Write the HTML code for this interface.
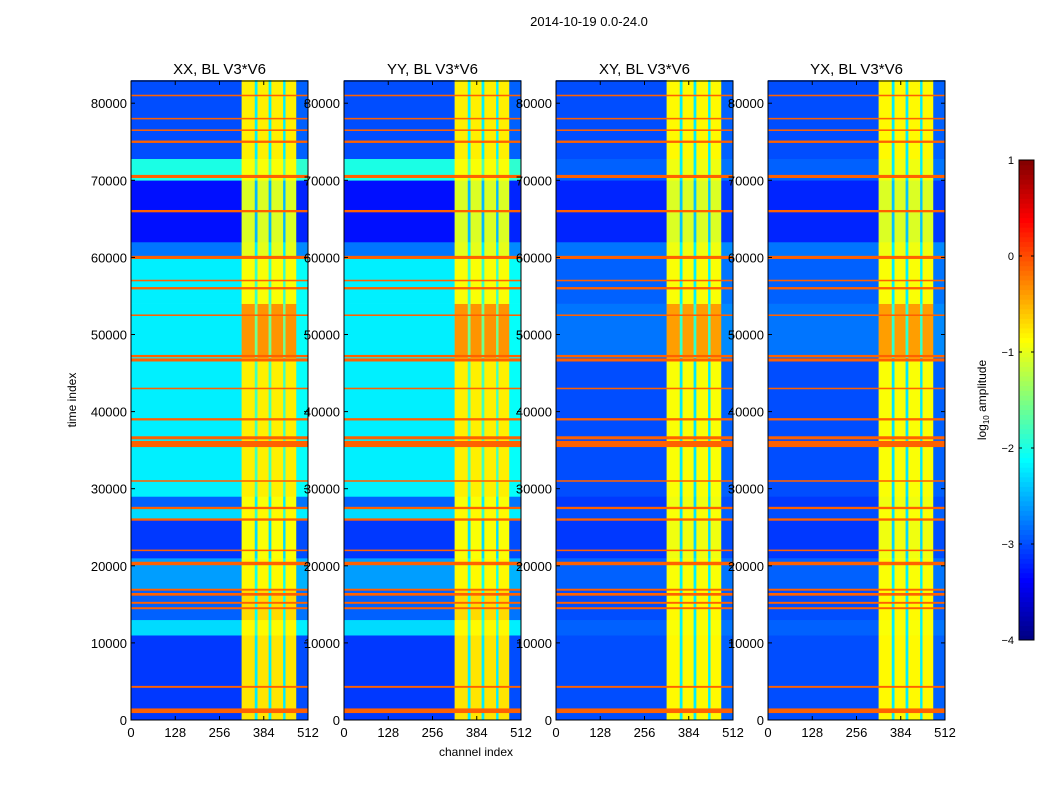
<!DOCTYPE html>
<html><head><meta charset="utf-8">
<style>
body{margin:0;background:#fff;font-family:"Liberation Sans",sans-serif}
svg text{font-family:"Liberation Sans",sans-serif;fill:#000}
</style></head>
<body>
<svg id="fig" width="1050" height="800" viewBox="0 0 1050 800" xmlns="http://www.w3.org/2000/svg">
<rect width="1050" height="800" fill="#fff"/>
<text x="589" y="26" font-size="13" text-anchor="middle">2014-10-19 0.0-24.0</text>
<text x="76" y="400" font-size="12" text-anchor="middle" transform="rotate(-90 76 400)">time index</text>
<text x="476" y="756" font-size="12" text-anchor="middle">channel index</text>
<g id="panels"></g>
<g id="cbar"></g>
<text x="986" y="400" font-size="12" text-anchor="middle" transform="rotate(-90 986 400)">log<tspan font-size="8" dy="3">10</tspan><tspan dy="-3"> amplitude</tspan></text>
</svg>
<script>
// ---- data ----
const panelTitles = ["XX, BL V3*V6","YY, BL V3*V6","XY, BL V3*V6","YX, BL V3*V6"];
const xTicks = [0,128,256,384,512];
const yTicks = [0,10000,20000,30000,40000,50000,60000,70000,80000];
const cbTicks = [1,0,-1,-2,-3,-4];
const colStarts = [0,320,358,366,398,406,440,447,478];
const colEnds   = [320,358,366,398,406,440,447,478,512];
const colKinds  = ["bg","band","gap","band","gap","band","gap","band","edge"];
const segStarts = [0,11000,13000,17000,21000,26000,27500,29000,47000,54000,60000,62000,70000,72800];
const segEnds   = [11000,13000,17000,21000,26000,27500,29000,47000,54000,60000,62000,70000,72800,83000];
const bgPar   = [-3.1,-2.3,-2.9,-2.6,-3.1,-2.3,-2.9,-2.2,-2.2,-2.2,-2.8,-3.3,-2.0,-3.0];
const bgCross = [-3.0,-2.9,-3.0,-2.9,-3.1,-3.0,-3.1,-3.0,-2.8,-2.9,-2.8,-3.2,-2.9,-3.0];
const bandPar   = [-0.75,-0.85,-0.7,-0.85,-0.9,-0.85,-0.9,-0.8,-0.35,-0.9,-1.0,-1.05,-0.9,-0.8];
const bandCross = [-0.85,-0.9,-0.85,-0.9,-0.95,-0.9,-0.95,-0.9,-0.4,-0.9,-0.95,-1.05,-0.95,-0.85];
const rfiTimes = [1200,4300,14500,15200,16300,16900,20300,22000,26000,27500,31000,35800,36600,39000,43000,46700,47200,52500,56000,57000,60000,66000,70500,75000,76500,78000,81000];
const rfiWidth = [600,250,250,250,350,250,450,200,300,300,200,800,400,300,200,400,300,200,300,200,400,300,400,300,200,200,200];
const rfiLevel = -0.1;

// ---- helpers ----
const NS="http://www.w3.org/2000/svg";
function jet(v){const t=Math.max(0,Math.min(1,(v+4)/5));
  const r=Math.max(0,Math.min(1,1.5-Math.abs(4*t-3)));
  const g=Math.max(0,Math.min(1,1.5-Math.abs(4*t-2)));
  const b=Math.max(0,Math.min(1,1.5-Math.abs(4*t-1)));
  return `rgb(${Math.round(r*255)},${Math.round(g*255)},${Math.round(b*255)})`;}
function mk(tag,attrs,parent){const e=document.createElementNS(NS,tag);for(const k in attrs)e.setAttribute(k,attrs[k]);parent.appendChild(e);return e;}
const lefts=[131,344,556,768], PW=177, TOP=81, BOT=720, TMAX=82880;
const panelsG=document.getElementById('panels');
panelTitles.forEach((title,p)=>{
  const L=lefts[p];
  const xs=c=>L+c/512*PW;
  const ys=t=>BOT-t/TMAX*(BOT-TOP);
  const g=mk('g',{},panelsG);
  
  
  const bg = p<2?bgPar:bgCross, band = p<2?bandPar:bandCross;
  for(let s=0;s<segStarts.length;s++){
    for(let c=0;c<colStarts.length;c++){
      let v;
      const k=colKinds[c];
      if(k==='bg') v=bg[s];
      else if(k==='band') v=band[s];
      else if(k==='gap') v=(band[s]+bg[s])/2-0.3;
      else v=(p<2?bg[s]+0.1:bg[s]+0.1);
      const r=mk('rect',{x:xs(colStarts[c]),y:ys(segEnds[s]),width:xs(colEnds[c])-xs(colStarts[c])+0.3,height:ys(segStarts[s])-ys(segEnds[s])+0.3,fill:jet(v)},g);
      
      
    }
  }
  rfiTimes.forEach((t,i)=>{
    const y0=ys(t+rfiWidth[i]/2), y1=ys(t-rfiWidth[i]/2);
    const r=mk('rect',{x:L,y:y0,width:PW,height:Math.max(1,y1-y0),fill:jet(rfiLevel)},g);
    
    
  });
  mk('rect',{x:L,y:TOP,width:PW,height:BOT-TOP,fill:'none',stroke:'#000','stroke-width':1},g);
  const tt=mk('text',{x:L+PW/2,y:74,'font-size':15,'text-anchor':'middle'},g);
  tt.textContent=title;
  
  
  xTicks.forEach(v=>{
    const x=xs(v);
    mk('line',{x1:x,x2:x,y1:BOT,y2:BOT-4,stroke:'#000'},g);
    mk('line',{x1:x,x2:x,y1:TOP,y2:TOP+4,stroke:'#000'},g);
    const t=mk('text',{x:x,y:BOT+17,'font-size':13,'text-anchor':'middle'},g);
    t.textContent=v;
    
    
  });
  yTicks.forEach(v=>{
    const y=ys(v);
    mk('line',{x1:L,x2:L+4,y1:y,y2:y,stroke:'#000'},g);
    mk('line',{x1:L+PW,x2:L+PW-4,y1:y,y2:y,stroke:'#000'},g);
    const t=mk('text',{x:L-4,y:y+5,'font-size':13,'text-anchor':'end'},g);
    t.textContent=v;
    
    
  });
});
// colorbar
const cb=document.getElementById('cbar');
const CX=1019,CW=15,CT=160,CB=640;
const cys=v=>CB-(v+4)/5*(CB-CT);
for(let i=0;i<100;i++){const v0=-4+i*0.05;
  mk('rect',{x:CX,y:cys(v0+0.05),width:CW,height:(CB-CT)/100+0.5,fill:jet(v0+0.025)},cb);}
mk('rect',{x:CX,y:CT,width:CW,height:CB-CT,fill:'none',stroke:'#000'},cb);
cbTicks.forEach(v=>{const y=cys(v);
  mk('line',{x1:CX,x2:CX+3,y1:y,y2:y,stroke:'#000'},cb);
  mk('line',{x1:CX+CW,x2:CX+CW-3,y1:y,y2:y,stroke:'#000'},cb);
  const t=mk('text',{x:CX-5,y:y+4,'font-size':11,'text-anchor':'end'},cb);
  t.textContent=(v<0?'\u2212'+(-v):v);
  
  
});
</script>
</body></html>
